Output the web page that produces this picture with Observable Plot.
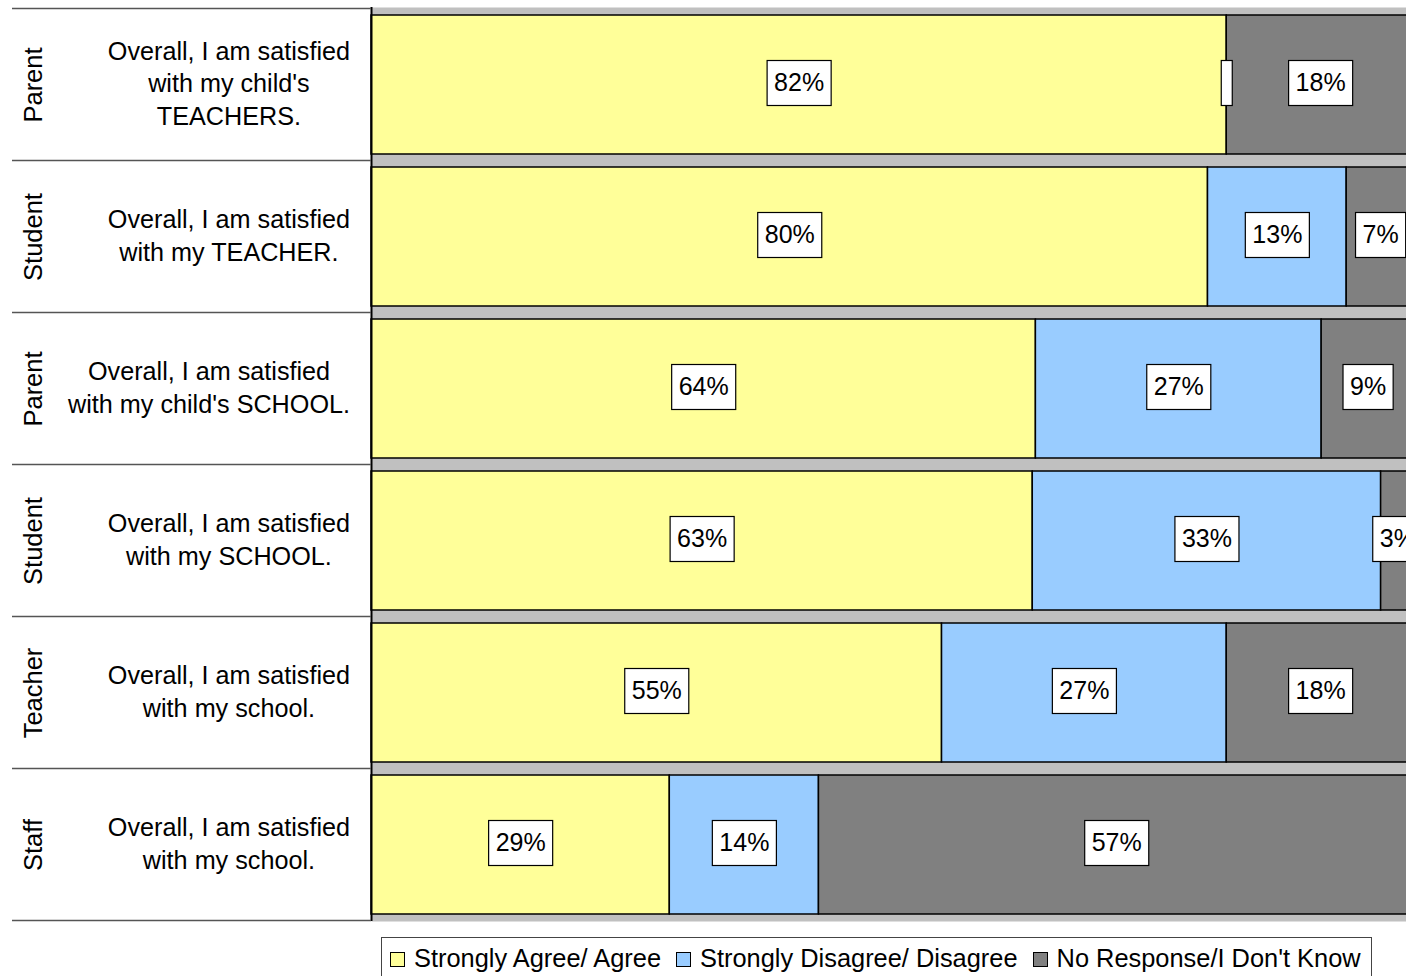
<!DOCTYPE html>
<html><head><meta charset="utf-8">
<script src="https://cdn.jsdelivr.net/npm/d3@7"></script>
<script src="https://cdn.jsdelivr.net/npm/@observablehq/plot@0.6"></script>
<style>
html,body{margin:0;padding:0;background:#fff;overflow:hidden;width:1406px;height:976px;}
body{font-family:"Liberation Sans",Arial,sans-serif;position:relative;}
#chart{position:absolute;left:0;top:0;width:1414px;}
.legend{position:absolute;left:381px;top:937px;border:1px solid #444;background:#fff;display:flex;align-items:center;padding:6px 10px 12px 8px;font-size:25.4px;color:#000;white-space:nowrap;}
.legend .item{display:flex;align-items:center;margin-right:15px;}
.legend .item:last-child{margin-right:0;}
.legend .sw{width:13px;height:13px;border:1px solid #000;margin-right:9px;margin-top:2px;}
</style>
</head><body>
<div id="chart"></div>
<div class="legend" id="legend"></div>
<script>
const groups = ["Parent","Student","Parent","Student","Teacher","Staff"];
const questions = [
  "Overall, I am satisfied\nwith my child's\nTEACHERS.",
  "Overall, I am satisfied\nwith my TEACHER.",
  "Overall, I am satisfied\nwith my child's SCHOOL.",
  "Overall, I am satisfied\nwith my SCHOOL.",
  "Overall, I am satisfied\nwith my school.",
  "Overall, I am satisfied\nwith my school."
];
const agree    = [82.0, 80.2, 63.7, 63.4, 54.7, 28.6];
const disagree = [0.0, 13.3, 27.4, 33.4, 27.3, 14.3];
const noResp   = [18.0, 6.5, 8.9, 3.2, 18.0, 57.1];
const categories = ["Strongly Agree/ Agree","Strongly Disagree/ Disagree","No Response/I Don't Know"];
const colors = ["#FFFF99","#99CCFF","#808080"];

const ids = groups.map((g,i)=>"r"+i);
const rows = ids.map((id,i)=>({id, group: groups[i], question: questions[i]}));
const data = [];
ids.forEach((id,i)=>{
  [agree[i], disagree[i], noResp[i]].forEach((v,k)=>{
    data.push({id, cat: categories[k], value: v, label: v > 0 ? Math.round(v)+"%" : " "});
  });
});

const leftLines = (index, scales, values, dims) => {
  const y = scales.y;
  const bw = typeof y.bandwidth === "function" ? y.bandwidth() : y.bandwidth;
  const step = typeof y.step === "function" ? y.step() : (y.step || bw);
  const g = d3.create("svg:g");
  const ys = ids.map(d => y(d) - (step - bw)/2);
  ys.push(y(ids[ids.length-1]) + bw + (step - bw)/2);
  ys.forEach(v => {
    g.append("line").attr("x1", 12).attr("x2", dims.marginLeft)
      .attr("y1", v).attr("y2", v).attr("stroke", "#555").attr("stroke-width", 1.5);
  });
  return g.node();
};

const chart = Plot.plot({
  width: 1414,
  height: 925,
  marginLeft: 371,
  marginRight: 0,
  marginTop: 7,
  marginBottom: 4,
  style: {fontFamily: '"Liberation Sans", Arial, sans-serif', background: "transparent"},
  x: {domain: [0, 100], axis: null},
  y: {domain: ids, axis: null, paddingInner: 0.086, paddingOuter: 0.043},
  color: {domain: categories, range: colors},
  marks: [
    Plot.frame({fill: "#C0C0C0", stroke: null}),
    Plot.barX(data, {x: "value", y: "id", fill: "cat", stroke: "#000", strokeWidth: 1.5}),
    Plot.ruleX([0], {stroke: "#000", strokeWidth: 2}),
    Plot.text(data, Plot.stackX({x: "value", y: "id", z: "cat", text: "label", fontSize: 25, fill: "#000", dy: -2, className: "vlabel"})),
    Plot.text(rows, {y: "id", text: "group", frameAnchor: "left", dx: -338, rotate: -90, fontSize: 25.5, fill: "#000", textAnchor: "middle"}),
    Plot.text(rows, {y: "id", text: "question", frameAnchor: "left", dx: -141, dy: -3, fontSize: 25.2, fill: "#000", textAnchor: "middle", lineHeight: 1.3, className: "qlabel"}),
    leftLines
  ]
});
chart.style.maxWidth = "none";
chart.style.width = "1414px";
document.getElementById("chart").appendChild(chart);

// boxes behind value labels
const svgNS = "http://www.w3.org/2000/svg";
chart.querySelectorAll(".vlabel text").forEach(t => {
  const bb = t.getBBox();
  const empty = t.textContent.trim() === "";
  const w = empty ? 11 : bb.width + 14;
  const r = document.createElementNS(svgNS, "rect");
  r.setAttribute("x", empty ? bb.x + bb.width/2 - 5.5 : bb.x - 7);
  r.setAttribute("y", -22.5);
  r.setAttribute("width", w);
  r.setAttribute("height", 45);
  r.setAttribute("fill", "#fff");
  r.setAttribute("stroke", "#000");
  r.setAttribute("stroke-width", 1.2);
  const tr = t.getAttribute("transform");
  if (tr) r.setAttribute("transform", tr);
  else { r.setAttribute("x", +r.getAttribute("x") + (+t.getAttribute("x")||0)); r.setAttribute("y", -22.5 + (+t.getAttribute("y")||0)); }
  t.parentNode.insertBefore(r, t);
});

// right-align question blocks (lines centered within block)
const svgRect = chart.getBoundingClientRect();
chart.querySelectorAll(".qlabel text").forEach(t => {
  const rc = t.getBoundingClientRect();
  const shift = 350 - (rc.right - svgRect.left);
  const tr = t.getAttribute("transform") || "";
  t.setAttribute("transform", tr + ` translate(${shift},0)`);
});

// legend
const lg = document.getElementById("legend");
categories.forEach((c,i)=>{
  const it = document.createElement("div"); it.className = "item";
  const sw = document.createElement("div"); sw.className = "sw"; sw.style.background = colors[i];
  const tx = document.createElement("span"); tx.textContent = c;
  it.appendChild(sw); it.appendChild(tx); lg.appendChild(it);
});
</script>
</body></html>
